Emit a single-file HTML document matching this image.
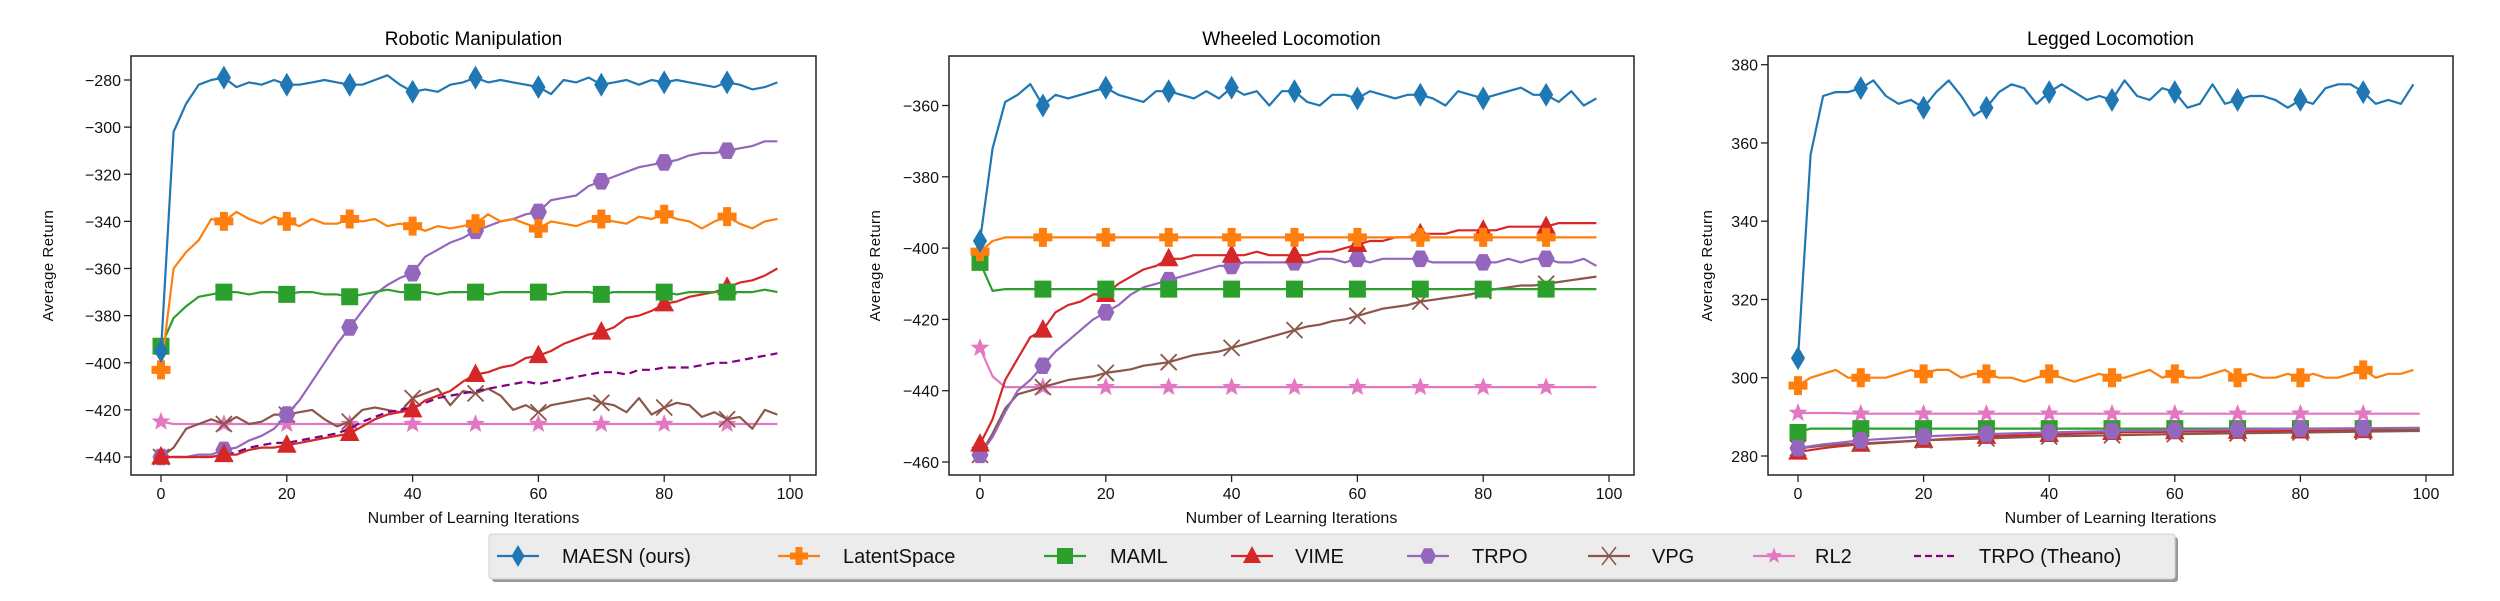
<!DOCTYPE html>
<html><head><meta charset="utf-8"><style>
html,body{margin:0;padding:0;background:#fff;}
svg{display:block;font-family:"Liberation Sans",sans-serif;}
</style></head><body>
<svg id="fig" width="2500" height="601" viewBox="0 0 2500 601" xmlns="http://www.w3.org/2000/svg"></svg>
<script>
// ---------- data ----------
const xs2 = [0,2,4,6,8,10,12,14,16,18,20,22,24,26,28,30,32,34,36,38,40,42,44,46,48,50,52,54,56,58,60,62,64,66,68,70,72,74,76,78,80,82,84,86,88,90,92,94,96,98];
const xs10 = [0,2,4,6,10,20,30,40,50,60,70,80,90,99];
const seriesNames = ["MAESN (ours)","LatentSpace","MAML","VIME","TRPO","VPG","RL2","TRPO (Theano)"];
const seriesColors = ["#1f77b4","#ff7f0e","#2ca02c","#d62728","#9467bd","#8c564b","#e377c2","#800080"];
const seriesMarkers = ["d","P","s","^","h","x","*",""];

// Robotic Manipulation (x = xs2)
const robMAESN = [-395,-302,-290,-282,-280,-279,-283,-281,-282,-280,-282,-282,-281,-280,-281,-282,-282,-280,-278,-282,-285,-284,-285,-282,-281,-279,-281,-280,-281,-282,-283,-286,-280,-281,-279,-282,-281,-280,-282,-280,-281,-280,-281,-282,-283,-281,-282,-284,-283,-281];
const robLatent = [-403,-360,-353,-348,-339,-340,-336,-339,-341,-338,-340,-342,-339,-341,-341,-339,-340,-339,-342,-341,-342,-344,-342,-343,-342,-341,-337,-340,-339,-341,-343,-340,-341,-342,-340,-339,-340,-341,-338,-339,-337,-339,-340,-343,-340,-338,-341,-343,-340,-339];
const robMAML = [-393,-381,-376,-372,-371,-370,-370,-371,-370,-370,-371,-370,-370,-371,-371,-372,-371,-370,-369,-370,-370,-370,-371,-370,-370,-370,-371,-370,-370,-370,-370,-371,-370,-370,-370,-371,-370,-370,-370,-370,-370,-371,-370,-370,-370,-370,-370,-370,-369,-370];
const robVIME = [-440,-440,-440,-440,-440,-439,-439,-437,-436,-436,-435,-434,-433,-432,-431,-430,-427,-424,-422,-421,-420,-416,-414,-412,-408,-405,-404,-402,-401,-398,-397,-395,-392,-390,-388,-387,-385,-381,-380,-378,-375,-374,-372,-371,-370,-368,-366,-365,-363,-360];
const robTRPO = [-440,-440,-440,-439,-439,-437,-436,-433,-431,-428,-422,-416,-408,-400,-392,-385,-378,-371,-367,-364,-362,-355,-352,-349,-347,-344,-342,-340,-339,-337,-336,-331,-330,-329,-325,-323,-321,-319,-317,-316,-315,-314,-312,-311,-311,-310,-309,-308,-306,-306];
const robVPG = [-440,-436,-428,-426,-424,-426,-423,-426,-425,-422,-422,-421,-420,-424,-427,-425,-420,-419,-420,-421,-415,-413,-411,-418,-412,-413,-411,-414,-420,-418,-421,-418,-417,-416,-415,-417,-418,-421,-415,-422,-419,-417,-418,-423,-421,-424,-423,-428,-420,-422];
const robRL2 = [-425,-426,-426,-426,-426,-426,-426,-426,-426,-426,-426,-426,-426,-426,-426,-426,-426,-426,-426,-426,-426,-426,-426,-426,-426,-426,-426,-426,-426,-426,-426,-426,-426,-426,-426,-426,-426,-426,-426,-426,-426,-426,-426,-426,-426,-426,-426,-426,-426,-426];
const robTheano = [-440,-440,-440,-440,-440,-439,-438,-436,-435,-434,-434,-433,-432,-431,-430,-428,-425,-423,-421,-420,-419,-417,-415,-414,-413,-412,-411,-410,-409,-408,-409,-408,-407,-406,-405,-404,-404,-405,-403,-403,-402,-402,-402,-401,-400,-400,-399,-398,-397,-396];

// Wheeled Locomotion
const wheMAESN = [-398,-372,-359,-357,-354,-360,-357,-358,-357,-356,-355,-357,-358,-359,-356,-356,-357,-358,-356,-358,-355,-357,-356,-360,-356,-356,-359,-360,-357,-357,-358,-356,-357,-358,-357,-357,-358,-360,-356,-357,-358,-357,-356,-355,-357,-357,-359,-356,-360,-358];
const wheLatent = [-401,-398,-397,-397,-397,-397,-397,-397,-397,-397,-397,-397,-397,-397,-397,-397,-397,-397,-397,-397,-397,-397,-397,-397,-397,-397,-397,-397,-397,-397,-397,-397,-397,-397,-397,-397,-397,-397,-397,-397,-397,-397,-397,-397,-397,-397,-397,-397,-397,-397];
const wheMAML = [-404,-412,-411.5,-411.5,-411.5,-411.5,-411.5,-411.5,-411.5,-411.5,-411.5,-411.5,-411.5,-411.5,-411.5,-411.5,-411.5,-411.5,-411.5,-411.5,-411.5,-411.5,-411.5,-411.5,-411.5,-411.5,-411.5,-411.5,-411.5,-411.5,-411.5,-411.5,-411.5,-411.5,-411.5,-411.5,-411.5,-411.5,-411.5,-411.5,-411.5,-411.5,-411.5,-411.5,-411.5,-411.5,-411.5,-411.5,-411.5,-411.5];
const wheVIME = [-455,-448,-437,-431,-425,-423,-418,-416,-415,-413,-413,-410,-408,-406,-405,-403,-403,-402,-402,-402,-402,-402,-401,-402,-402,-402,-402,-401,-401,-400,-399,-398,-398,-397,-397,-396,-396,-396,-395,-395,-395,-395,-394,-394,-394,-394,-393,-393,-393,-393];
const wheTRPO = [-458,-453,-446,-440,-437,-433,-429,-426,-423,-420,-418,-416,-413,-411,-410,-409,-408,-407,-406,-405,-405,-404,-404,-404,-404,-404,-404,-403,-403,-404,-403,-404,-403,-403,-403,-403,-404,-404,-404,-404,-404,-404,-403,-404,-403,-403,-404,-404,-403,-405];
const wheVPG = [-458,-452,-445,-441,-440,-439,-438,-437,-436.5,-436,-435,-434.5,-434,-433,-432.5,-432,-431,-430,-429.5,-429,-428,-427,-426,-425,-424,-423,-422,-421.5,-420.5,-420,-419,-418,-417,-416.5,-416,-415,-414.5,-414,-413.5,-413,-412,-411.5,-411,-410.5,-410.5,-410,-409.5,-409,-408.5,-408];
const wheRL2 = [-428,-436,-439,-439,-439,-439,-439,-439,-439,-439,-439,-439,-439,-439,-439,-439,-439,-439,-439,-439,-439,-439,-439,-439,-439,-439,-439,-439,-439,-439,-439,-439,-439,-439,-439,-439,-439,-439,-439,-439,-439,-439,-439,-439,-439,-439,-439,-439,-439,-439];

// Legged Locomotion
const legMAESN = [305,357,372,373,373,374,376,372,370,371,369,373,376,372,367,369,373,375,374,370,373,375,373,371,372,371,376,372,371,374,373,369,370,375,370,371,372,372,371,369,371,370,374,375,375,373,370,371,370,375];
const legLatent = [298,300,301,302,300,300,300,300,301,302,301,302,302,300,301,301,300,300,299,300,301,300,299,300,301,300,300,301,302,300,301,300,300,301,302,300,301,300,300,301,300,301,300,300,301,302,300,301,301,302];
// smooth series (x = xs10)
const legRL2 = [291,291,291,291,290.8,290.8,290.8,290.8,290.8,290.8,290.8,290.8,290.8,290.8];
const legMAML = [286,287,287,287,287,287,287,287,287,287,287,287,287,287];
const legVIME = [281,281.5,282,282.4,283,284,285,285.5,286,286.2,286.3,286.4,286.5,286.5];
const legTRPO = [282,282.5,283,283.3,284,285,285.6,286,286.4,286.6,286.8,287,287.1,287.2];
const legVPG = [282,282.3,282.6,282.9,283.2,284,284.5,285,285.3,285.6,285.8,286,286.2,286.4];

const yTicksRob = [-280,-300,-320,-340,-360,-380,-400,-420,-440];
const yTicksWhe = [-360,-380,-400,-420,-440,-460];
const yTicksLeg = [280,300,320,340,360,380];
const xTicks = [0,20,40,60,80,100];

// ---------- drawing ----------
const NS = "http://www.w3.org/2000/svg";
const svg = document.getElementById("fig");
function mk(tag, attrs, parent){const e=document.createElementNS(NS,tag);for(const k in attrs)e.setAttribute(k,attrs[k]);(parent||svg).appendChild(e);return e;}

function markerPath(type, cx, cy){
  const s=9;
  if(type==="d") return `M${cx},${cy-11} L${cx+6.5},${cy} L${cx},${cy+11} L${cx-6.5},${cy} Z`;
  if(type==="s") return `M${cx-8},${cy-8} h16 v16 h-16 Z`;
  if(type==="^") return `M${cx},${cy-10} L${cx+9},${cy+7} L${cx-9},${cy+7} Z`;
  if(type==="P"){const a=3.5,b=9;return `M${cx-a},${cy-b} h${2*a} v${b-a} h${b-a} v${2*a} h${-(b-a)} v${b-a} h${-2*a} v${-(b-a)} h${-(b-a)} v${-2*a} h${b-a} Z`;}
  if(type==="h"){let p="";for(let i=0;i<6;i++){const an=Math.PI/6*(2*i+1)+Math.PI/2 - Math.PI/6;const x=cx+8*Math.cos(an+Math.PI/6),y=cy+9*Math.sin(an+Math.PI/6);p+=(i?"L":"M")+x+","+y;}return p+"Z";}
  if(type==="*"){let p="";for(let i=0;i<10;i++){const r=i%2?3.6:8.5;const an=-Math.PI/2+i*Math.PI/5;p+=(i?"L":"M")+(cx+r*Math.cos(an))+","+(cy+r*Math.sin(an));}return p+"Z";}
  return "";
}

function drawPanel(cfg){
  const g=mk("g",{});
  
  
  const {L,R,T,B,x0px,x100px,yA,yApx,yB,yBpx}=cfg;
  const sx=v=>x0px+(x100px-x0px)*v/100;
  const sy=v=>yApx+(yBpx-yApx)*(v-yA)/(yB-yA);
  // title
  const t=mk("text",{x:(L+R)/2,y:45,"text-anchor":"middle","font-size":"19","fill":"#000"},g);
  t.textContent=cfg.title;
  
  
  // clip
  const cid="clip"+cfg.name;
  const cp=mk("clipPath",{id:cid},g);mk("rect",{x:L,y:T,width:R-L,height:B-T},cp);
  const plot=mk("g",{"clip-path":`url(#${cid})`},g);
  // series
  cfg.series.forEach((s,i)=>{
    const col=seriesColors[s.idx];
    const pts=s.x.map((xv,j)=>sx(xv).toFixed(1)+","+sy(s.y[j]).toFixed(1)).join(" ");
    const pl=mk("polyline",{points:pts,fill:"none",stroke:col,"stroke-width":"2.2","stroke-linejoin":"round","stroke-dasharray":s.idx===7?"8,5":"none"},plot);
    
    
    const mt=seriesMarkers[s.idx];
    if(mt){
      s.x.forEach((xv,j)=>{
        if(xv%10!==0||xv>=100) return;
        const cx=sx(xv),cy=sy(s.y[j]);
        let m;
        if(mt==="x"){
          m=mk("path",{d:`M${cx-8},${cy-8}L${cx+8},${cy+8}M${cx-8},${cy+8}L${cx+8},${cy-8}`,stroke:col,"stroke-width":"1.8",fill:"none"},plot);
        } else {
          m=mk("path",{d:markerPath(mt,cx,cy),fill:col,stroke:col,"stroke-width":"1"},plot);
        }
        
        
      });
    }
  });
  // frame
  const fr=mk("rect",{x:L,y:T,width:R-L,height:B-T,fill:"none",stroke:"#222","stroke-width":"1.5"},g);
  
  
  // y ticks
  cfg.yTicks.forEach(v=>{
    const y=sy(v);
    mk("line",{x1:L-7,x2:L,y1:y,y2:y,stroke:"#222","stroke-width":"1.3"},g);
    const tl=mk("text",{x:L-10,y:y+6,"text-anchor":"end","font-size":"16","fill":"#111"},g);
    tl.textContent=v<0?"\u2212"+(-v):String(v);
    
    
  });
  xTicks.forEach(v=>{
    const x=sx(v);
    mk("line",{x1:x,x2:x,y1:B,y2:B+7,stroke:"#222","stroke-width":"1.3"},g);
    const tl=mk("text",{x:x,y:B+24,"text-anchor":"middle","font-size":"16","fill":"#111"},g);
    tl.textContent=String(v);
    
    
  });
  const xl=mk("text",{x:(L+R)/2,y:523,"text-anchor":"middle","font-size":"16","fill":"#111"},g);
  xl.textContent="Number of Learning Iterations";
  
  
  const yl=mk("text",{x:0,y:0,"text-anchor":"middle","font-size":"15","fill":"#111","letter-spacing":"0.5",transform:`translate(${cfg.ylx},${(T+B)/2}) rotate(-90)`},g);
  yl.textContent="Average Return";
  
  
}

drawPanel({name:"robotic-manipulation-panel",title:"Robotic Manipulation",L:131,R:816,T:56,B:475,x0px:161,x100px:790,yA:-280,yApx:80,yB:-440,yBpx:457,yTicks:yTicksRob,ylx:53,
  series:[{idx:6,x:xs2,y:robRL2},{idx:5,x:xs2,y:robVPG},{idx:7,x:xs2,y:robTheano},{idx:4,x:xs2,y:robTRPO},{idx:3,x:xs2,y:robVIME},{idx:2,x:xs2,y:robMAML},{idx:1,x:xs2,y:robLatent},{idx:0,x:xs2,y:robMAESN}]});
drawPanel({name:"wheeled-locomotion-panel",title:"Wheeled Locomotion",L:949,R:1634,T:56,B:475,x0px:980,x100px:1609,yA:-360,yApx:105.5,yB:-460,yBpx:462,yTicks:yTicksWhe,ylx:880,
  series:[{idx:6,x:xs2,y:wheRL2},{idx:5,x:xs2,y:wheVPG},{idx:4,x:xs2,y:wheTRPO},{idx:3,x:xs2,y:wheVIME},{idx:2,x:xs2,y:wheMAML},{idx:1,x:xs2,y:wheLatent},{idx:0,x:xs2,y:wheMAESN}]});
drawPanel({name:"legged-locomotion-panel",title:"Legged Locomotion",L:1768,R:2453,T:56,B:475,x0px:1798,x100px:2426,yA:380,yApx:64.7,yB:280,yBpx:456,yTicks:yTicksLeg,ylx:1712,
  series:[{idx:6,x:xs10,y:legRL2},{idx:2,x:xs10,y:legMAML},{idx:3,x:xs10,y:legVIME},{idx:5,x:xs10,y:legVPG},{idx:4,x:xs10,y:legTRPO},{idx:1,x:xs2,y:legLatent},{idx:0,x:xs2,y:legMAESN}]});

// legend
const lg=mk("g",{});


mk("rect",{x:492,y:537,width:1686,height:45,rx:3,fill:"#999"},lg);
mk("rect",{x:489,y:534,width:1686,height:45,rx:3,fill:"#ececec",stroke:"#d0d0d0","stroke-width":"1"},lg);
const legMarkX=[518,799,1065,1252,1428,1609,1774,1935];
const legTextX=[562,843,1110,1295,1472,1652,1815,1979];
seriesNames.forEach((nm,i)=>{
  const e=mk("g",{},lg);
  
  
  const col=seriesColors[i],cx=legMarkX[i],cy=556;
  mk("line",{x1:cx-21,x2:cx+21,y1:cy,y2:cy,stroke:col,"stroke-width":"2.2","stroke-dasharray":i===7?"7,4":"none"},e);
  const mt=seriesMarkers[i];
  if(mt==="x") mk("path",{d:`M${cx-7},${cy-9}L${cx+7},${cy+9}M${cx-7},${cy+9}L${cx+7},${cy-9}`,stroke:col,"stroke-width":"1.5"},e);
  else if(mt) mk("path",{d:markerPath(mt,cx,cy),fill:col},e);
  const tx=mk("text",{x:legTextX[i],y:cy+7,"font-size":"20","fill":"#111"},e);
  tx.textContent=nm;
});
</script>
</body></html>
